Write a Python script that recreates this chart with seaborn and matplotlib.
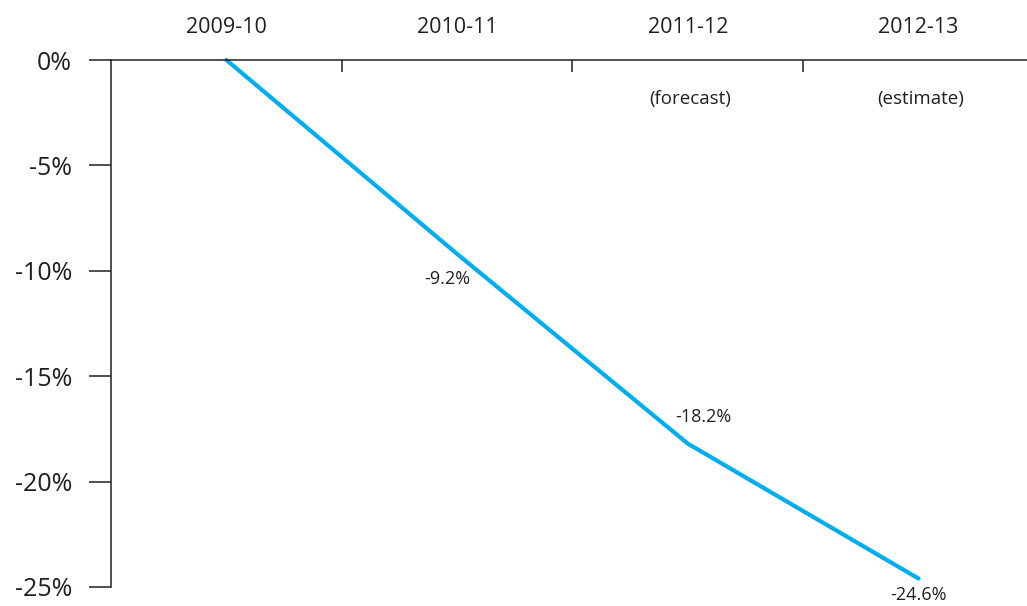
import numpy as np
import pandas as pd
import matplotlib
matplotlib.use("Agg")
import matplotlib.pyplot as plt
import seaborn as sns
from matplotlib.ticker import FixedLocator

# data
years = ["2009-10", "2010-11", "2011-12", "2012-13"]
change = [0.0, -9.2, -18.2, -24.6]
notes = ["", "", "(forecast)", "(estimate)"]
shown = [False, True, True, True]
yticks = [0, -5, -10, -15, -20, -25]

sns.set_style("white")
plt.rcParams['font.family'] = ['Open Sans', 'DejaVu Sans']
dark = "#231F20"
blue = "#00AEEF"

df = pd.DataFrame({"pos": np.arange(len(years)), "change": change})

fig = plt.figure(figsize=(10.27, 6.06), dpi=100)
ax = fig.add_axes([111 / 1027, 1 - 587 / 606, 1 - 111 / 1027, (587 - 60) / 606])

sns.lineplot(data=df, x="pos", y="change", ax=ax, color=blue, lw=3,
             solid_capstyle="round", clip_on=False)

ax.set_xlim(-0.5, 3.47)
ax.set_ylim(-25, 0)

# spines
for s in ["bottom", "right"]:
    ax.spines[s].set_visible(False)
for s in ["top", "left"]:
    ax.spines[s].set_color(dark)
    ax.spines[s].set_linewidth(1.1)

# x axis on top
ax.xaxis.tick_top()
ax.set_xticks(df["pos"])
ax.set_xticklabels(years)
ax.xaxis.set_minor_locator(FixedLocator([0.5, 1.5, 2.5]))
ax.tick_params(axis="x", which="major", length=0, pad=16, labelsize=15.5,
               labelcolor=dark, top=True, bottom=False)
ax.tick_params(axis="x", which="minor", length=8.6, width=1.1, direction="in",
               color=dark, top=True, bottom=False)

# y axis
ax.set_yticks(yticks)
ax.set_yticklabels([f"{v}%" for v in yticks])
ax.tick_params(axis="y", length=16, width=1.1, direction="out", pad=12,
               labelsize=18, color=dark, labelcolor=dark, left=True)

ax.set_xlabel("")
ax.set_ylabel("")

# value labels
offsets = [(0, 0), (-7, -18), (11, 19), (0, -12)]
for x, v, show, off in zip(df["pos"], change, shown, offsets):
    if show:
        ax.annotate(f"{v}%", xy=(x, v), xytext=off, textcoords="offset points",
                    ha="center", va="center", fontsize=13, color=dark,
                    annotation_clip=False)

for x, n in zip(df["pos"], notes):
    if n:
        ax.annotate(n, xy=(x, 0), xytext=(1.5, -28), textcoords="offset points",
                    ha="center", va="center", fontsize=13.5, color=dark)

fig.savefig("out.png", dpi=100)
